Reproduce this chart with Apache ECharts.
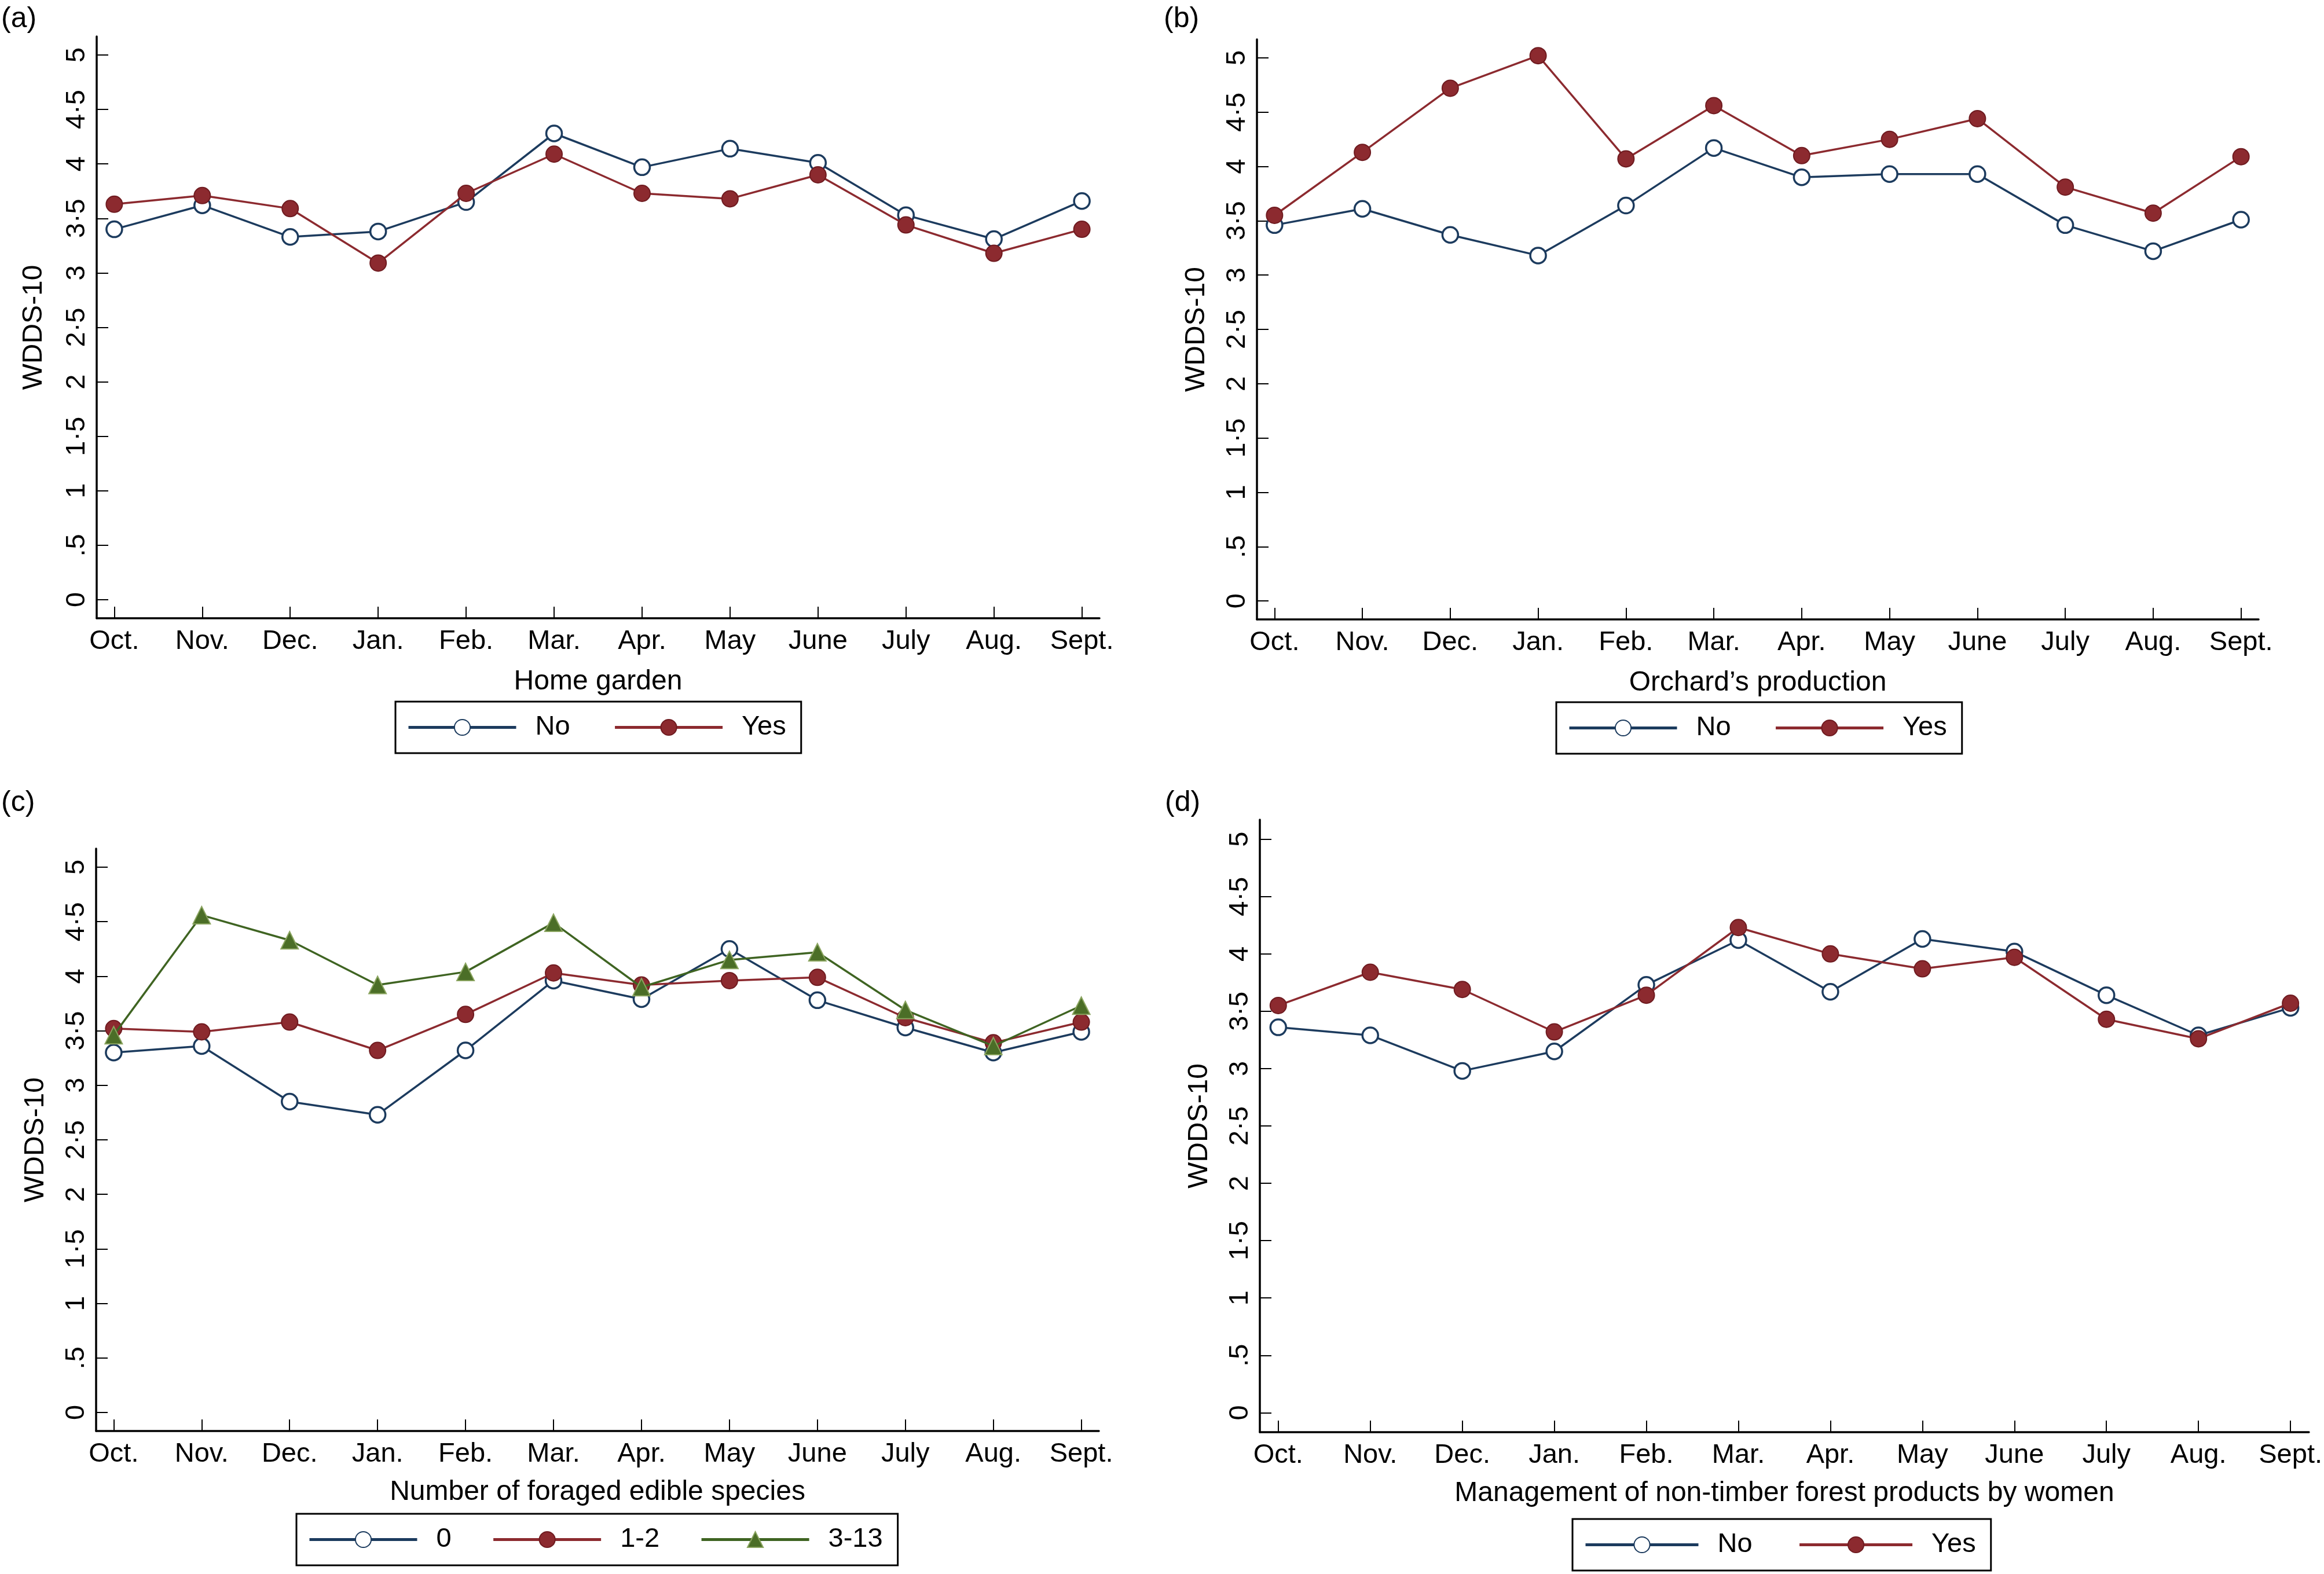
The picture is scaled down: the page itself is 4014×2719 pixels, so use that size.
<!DOCTYPE html>
<html><head><meta charset="utf-8">
<script src="https://cdn.jsdelivr.net/npm/echarts@6/dist/echarts.min.js"></script>
<style>html,body{margin:0;padding:0;background:#fff}#c{width:4014px;height:2719px}</style>
</head><body><div id="c"></div>
<script>
// ---- data ----
const months = ['Oct.','Nov.','Dec.','Jan.','Feb.','Mar.','Apr.','May','June','July','Aug.','Sept.'];
const yTickValues = [0,0.5,1,1.5,2,2.5,3,3.5,4,4.5,5];
const yTickLabels = ['0','.5','1','1·5','2','2·5','3','3·5','4','4·5','5'];

const homeGardenNo  = [3.40,3.62,3.33,3.38,3.65,4.28,3.97,4.14,4.01,3.53,3.31,3.66];
const homeGardenYes = [3.63,3.71,3.59,3.09,3.73,4.09,3.73,3.68,3.90,3.44,3.18,3.40];

const orchardNo  = [3.46,3.61,3.37,3.18,3.64,4.17,3.90,3.93,3.93,3.46,3.22,3.51];
const orchardYes = [3.55,4.13,4.72,5.02,4.07,4.56,4.10,4.25,4.44,3.81,3.57,4.09];

const foraged0    = [3.30,3.36,2.85,2.73,3.32,3.96,3.79,4.25,3.78,3.53,3.30,3.49];
const foraged1to2 = [3.52,3.49,3.58,3.32,3.65,4.03,3.92,3.96,3.99,3.62,3.39,3.58];
const foraged3to13= [3.46,4.56,4.33,3.92,4.04,4.49,3.90,4.15,4.22,3.69,3.36,3.73];

const ntfpNo  = [3.36,3.29,2.98,3.15,3.73,4.12,3.67,4.13,4.02,3.64,3.29,3.53];
const ntfpYes = [3.55,3.84,3.69,3.32,3.64,4.23,4.00,3.87,3.97,3.43,3.26,3.57];

const panelLetters = ['(a)','(b)','(c)','(d)'];
const xTitles = ['Home garden','Orchard\u2019s production','Number of foraged edible species','Management of non-timber forest products by women'];
const yTitle = 'WDDS-10';

// ---- styling ----
const FONT = 'Liberation Sans, Arial, Helvetica, sans-serif';
const NAVY = '#1c3b5e', RED = '#8c2a2f', REDB = '#6f1b20', GREEN = '#3f6422', GREENF = '#4b6e27', GREENB = '#8aa45f';

const grids = [
  {left:167, top:63,  width:1732, height:1005},
  {left:2171,top:68,  width:1730, height:1002},
  {left:166, top:1466,width:1732, height:1006},
  {left:2176,top:1416,width:1812, height:1058}
];
const legendPos = [
  {left:683, top:1212, gap:75, w:186},
  {left:2688,top:1213, gap:75, w:186},
  {left:512, top:2615, gap:70, w:186},
  {left:2716,top:2624, gap:79, w:195}
];
const xNameGap = [86, 86, 82, 82];
const yNameGap = [84, 80, 80, 80];

const xIdx = months.map((m,i)=>i);

function xAxis(i){
  return {
    type:'value', gridIndex:i, min:-0.2, max:11.2,
    name:xTitles[i], nameLocation:'middle', nameGap:xNameGap[i],
    nameTextStyle:{fontSize:48, fontFamily:FONT, color:'#000'},
    axisLine:{show:true, onZero:false, lineStyle:{color:'#000', width:3.5}},
    axisTick:{show:true, inside:true, length:20, customValues:xIdx, lineStyle:{color:'#000', width:2}},
    axisLabel:{show:true, customValues:xIdx, margin:17, fontSize:47, fontFamily:FONT, color:'#000',
      formatter:v=>months[Math.round(v)]},
    splitLine:{show:false}
  };
}
function yAxis(i){
  return {
    type:'value', gridIndex:i, min:-0.17, max:5.17,
    name:yTitle, nameLocation:'middle', nameGap:yNameGap[i],
    nameTextStyle:{fontSize:48, fontFamily:FONT, color:'#000'},
    axisLine:{show:true, onZero:false, lineStyle:{color:'#000', width:3.5}},
    axisTick:{show:true, inside:true, length:20, customValues:yTickValues, lineStyle:{color:'#000', width:2}},
    axisLabel:{show:true, customValues:yTickValues, rotate:90, margin:10, fontSize:47, fontFamily:FONT, color:'#000',
      formatter:v=>yTickLabels[yTickValues.indexOf(Math.round(v*2)/2)]},
    splitLine:{show:false}
  };
}
function pts(arr){ return arr.map((v,i)=>[xIdx[i], v]); }
function hollow(name, arr, g){
  return {type:'line', name:name, xAxisIndex:g, yAxisIndex:g, data:pts(arr),
    symbol:'circle', symbolSize:27, lineStyle:{color:NAVY, width:3.5},
    itemStyle:{color:'#fff', borderColor:NAVY, borderWidth:3.5}, emphasis:{disabled:true}, z:2};
}
function filled(name, arr, g){
  return {type:'line', name:name, xAxisIndex:g, yAxisIndex:g, data:pts(arr),
    symbol:'circle', symbolSize:28, lineStyle:{color:RED, width:3.5},
    itemStyle:{color:RED, borderColor:REDB, borderWidth:2}, emphasis:{disabled:true}, z:3};
}
function tri(name, arr, g){
  return {type:'line', name:name, xAxisIndex:g, yAxisIndex:g, data:pts(arr),
    symbol:'triangle', symbolSize:30, lineStyle:{color:GREEN, width:3.5},
    itemStyle:{color:GREENF, borderColor:GREENB, borderWidth:2}, emphasis:{disabled:true}, z:4};
}

const series = [
  hollow('No', homeGardenNo, 0), filled('Yes', homeGardenYes, 0),
  hollow('No ', orchardNo, 1), filled('Yes ', orchardYes, 1),
  hollow('0', foraged0, 2), filled('1-2', foraged1to2, 2), tri('3-13', foraged3to13, 2),
  hollow('No  ', ntfpNo, 3), filled('Yes  ', ntfpYes, 3)
];
const legendData = [['No','Yes'],['No ','Yes '],['0','1-2','3-13'],['No  ','Yes  ']];

const legends = legendData.map((d,i)=>({
  data:d, orient:'horizontal', left:legendPos[i].left, top:legendPos[i].top,
  itemWidth:legendPos[i].w, itemHeight:34, itemGap:legendPos[i].gap,
  padding:[21,26,21,20], borderColor:'#000', borderWidth:3, backgroundColor:'#fff',
  selectedMode:false,
  lineStyle:{width:5},
  textStyle:{fontSize:47, fontFamily:FONT, color:'#000', padding:[0,0,0,28]},
  formatter:n=>n.trim()
}));

const letterPos = [[2,8],[2010,8],[2,1362],[2012,1362]];
const graphics = panelLetters.map((t,i)=>({
  type:'text', left:letterPos[i][0], top:letterPos[i][1],
  style:{text:t, fontSize:50, fontFamily:FONT, fill:'#000'}
}));

const chart = echarts.init(document.getElementById('c'), null, {renderer:'canvas'});
chart.setOption({
  animation:false,
  backgroundColor:'#fff',
  grid:grids,
  xAxis:[0,1,2,3].map(xAxis),
  yAxis:[0,1,2,3].map(yAxis),
  legend:legends,
  series:series,
  graphic:graphics
});
</script></body></html>
